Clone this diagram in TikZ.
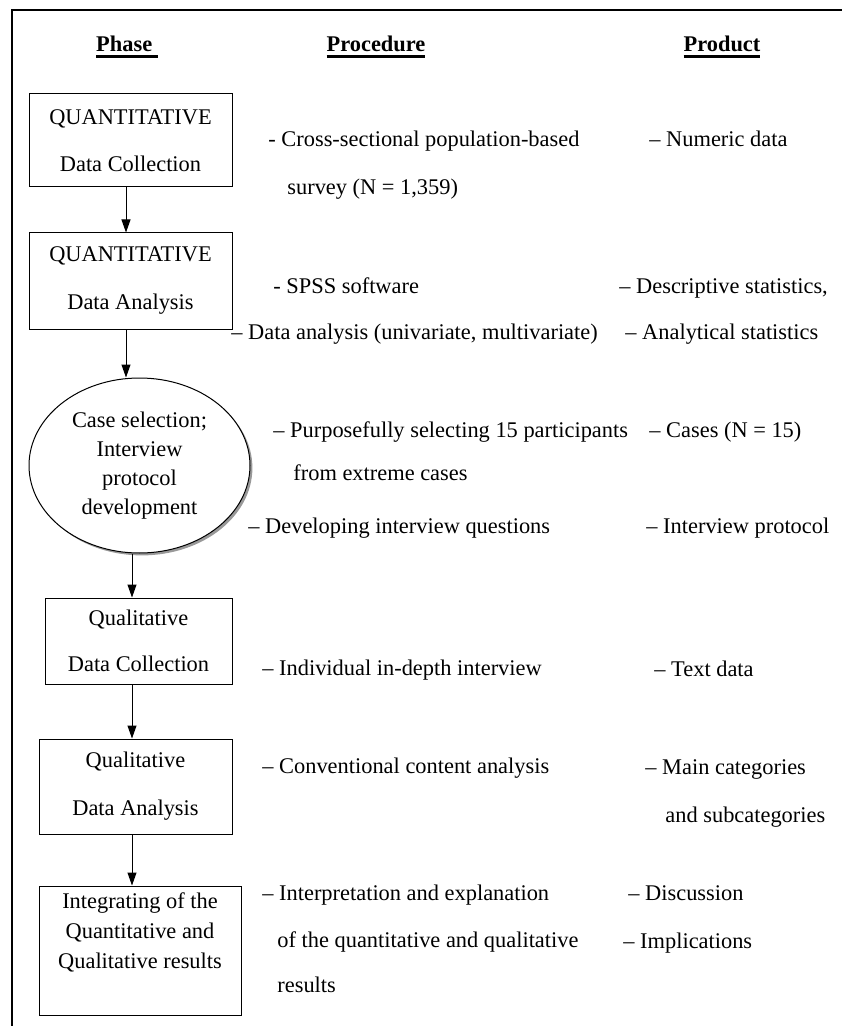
\documentclass[tikz,border=0pt]{standalone}
\usepackage{fontspec}
\setmainfont{Liberation Serif}
\usetikzlibrary{shapes.geometric,shadows,arrows.meta}
% thick underline for the column heads
\newcommand{\headrule}[1]{\setbox0\hbox{#1}\rlap{\rule[-2.8pt]{\wd0}{1.3pt}}\box0}

\begin{document}
\begin{tikzpicture}[x=0.5pt, y=-0.5pt, font=\fontsize{11.2}{13.5}\selectfont]
\tikzset{
    phase/.style={rectangle, draw, line width=0.5pt, align=center, inner sep=0pt},
    oval/.style={ellipse, draw, fill=white, line width=0.5pt, align=center, inner sep=0pt,
        drop shadow={opacity=1, fill=gray!80, shadow xshift=1.2pt, shadow yshift=-1.2pt}},
    txt/.style={anchor=base west, inner sep=0pt},
    head/.style={anchor=base, inner sep=0pt, font=\fontsize{11.2}{13.5}\selectfont\bfseries},
    flow/.style={-{Triangle[length=6.5pt, width=4.5pt]}, line width=0.5pt}
}
  \useasboundingbox (0,0) rectangle (842,1026);
  \draw[line width=0.8pt] (12,1026) -- (12,10) -- (842,10);

  % headings
  \node[head] (hPhase) at (127,52) {\headrule{Phase\ }};
  \node[head] (hProc) at (376,52) {\headrule{Procedure}};
  \node[head] (hProd) at (722,52) {\headrule{Product}};

  % phases
  \node[phase, minimum width=101.5pt, minimum height=46.5pt] (qnCol) at (130.5,140.5)
      {QUANTITATIVE\\[10pt] Data Collection};
  \node[phase, minimum width=101.5pt, minimum height=48pt] (qnAna) at (130.5,281)
      {QUANTITATIVE\\[10.5pt] Data Analysis};
  \node[oval, minimum width=110.5pt, minimum height=87.5pt,
        font=\fontsize{11.2}{14.5}\selectfont] (caseSel) at (139.5,465.5)
      {Case selection;\\ Interview\\ protocol\\ development};
  \node[phase, minimum width=93.5pt, minimum height=43pt] (qlCol) at (138.5,641)
      {Qualitative\\[9.5pt] Data Collection};
  \node[phase, minimum width=96.5pt, minimum height=47.5pt] (qlAna) at (135.5,786.5)
      {Qualitative\\[10.5pt] Data Analysis};
  \node[phase, minimum width=101pt, minimum height=64.5pt] (integ) at (140,950.5)
      {Integrating of the\\[1.5pt] Quantitative and\\[1.5pt] Qualitative results\\[6pt]\mbox{}};

  % flow
  \draw[flow] ([xshift=-2.25pt]qnCol.south) -- ([xshift=-2.25pt]qnAna.north);
  \draw[flow] ([xshift=-2.25pt]qnAna.south) -- ([xshift=-2.25pt]qnAna.south |- caseSel.north);
  \draw[flow] ([xshift=-3.75pt]caseSel.south) -- ([xshift=-3.75pt]caseSel.south |- qlCol.north);
  \draw[flow] ([xshift=-3.25pt]qlCol.south) -- ([xshift=-3.25pt]qlCol.south |- qlAna.north);
  \draw[flow] ([xshift=-1.75pt]qlAna.south) -- ([xshift=-1.75pt]qlAna.south |- integ.north);

  % procedure
  \node[txt] (proc1a) at (268,147) {- Cross-sectional population-based};
  \node[txt] (proc1b) at (287,195) {survey (N = 1,359)};
  \node[txt] (proc2a) at (273,293) {- SPSS software};
  \node[txt] (proc2b) at (231,339) {– Data analysis (univariate, multivariate)};
  \node[txt] (proc3a) at (273,437) {– Purposefully selecting 15 participants};
  \node[txt] (proc3b) at (293,480) {from extreme cases};
  \node[txt] (proc3c) at (248,533) {– Developing interview questions};
  \node[txt] (proc4) at (262,675) {– Individual in-depth interview};
  \node[txt] (proc5) at (262,773) {– Conventional content analysis};
  \node[txt] (proc6a) at (262,900) {– Interpretation and explanation};
  \node[txt] (proc6b) at (277,947) {of the quantitative and qualitative};
  \node[txt] (proc6c) at (277,992) {results};

  % product
  \node[txt] (prod1) at (649,147) {– Numeric data};
  \node[txt] (prod2a) at (619,293) {– Descriptive statistics,};
  \node[txt] (prod2b) at (625,339) {– Analytical statistics};
  \node[txt] (prod3a) at (649,437) {– Cases (N = 15)};
  \node[txt] (prod3b) at (646,533) {– Interview protocol};
  \node[txt] (prod4) at (654,676) {– Text data};
  \node[txt] (prod5a) at (645,774) {– Main categories};
  \node[txt] (prod5b) at (665,822) {and subcategories};
  \node[txt] (prod6a) at (628,900) {– Discussion};
  \node[txt] (prod6b) at (623,948) {– Implications};
\end{tikzpicture}
\end{document}
